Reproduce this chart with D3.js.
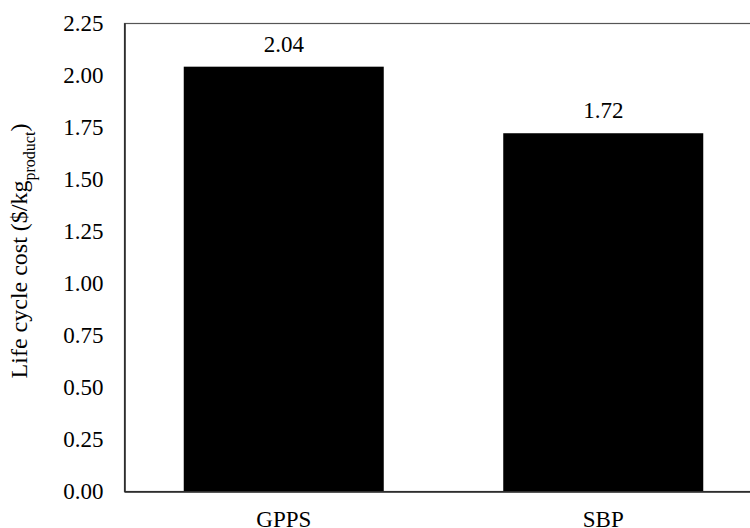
<!DOCTYPE html>
<html>
<head>
<meta charset="utf-8">
<script src="https://cdn.jsdelivr.net/npm/d3@7"></script>
<style>
  html, body { margin: 0; padding: 0; background: #fff; }
  svg { display: block; }
</style>
</head>
<body>
<svg id="chart" width="750" height="528"></svg>
<script>
const categories = ["GPPS", "SBP"];
const values = [2.04, 1.72];
const valueLabels = ["2.04", "1.72"];
const yTicks = [0, 0.25, 0.5, 0.75, 1.0, 1.25, 1.5, 1.75, 2.0, 2.25];

const FONT = '"Liberation Serif", "Times New Roman", Times, serif';
const svg = d3.select("#chart");
const margin = { left: 124, top: 23, right: -13, bottom: 37 };
const W = 750, H = 528;
const x0 = margin.left, x1 = W - margin.right;
const yTop = margin.top, yBot = H - margin.bottom;

const x = d3.scaleBand().domain(categories).range([x0, x1]).paddingInner(0.374).paddingOuter(0.187);
const y = d3.scaleLinear().domain([0, 2.25]).range([yBot, yTop]);

// frame
svg.append("rect")
  .attr("x", x0 + 0.5).attr("y", yTop + 0.5)
  .attr("width", x1 - x0).attr("height", yBot - yTop)
  .attr("fill", "none").attr("stroke", "#555").attr("stroke-width", 1.2);

// bars
svg.selectAll("rect.bar").data(categories).enter().append("rect")
  .attr("class", "bar")
  .attr("x", d => x(d))
  .attr("width", x.bandwidth())
  .attr("y", (d, i) => y(values[i]))
  .attr("height", (d, i) => yBot - y(values[i]))
  .attr("fill", "#000");

// value labels
svg.selectAll("text.val").data(categories).enter().append("text")
  .attr("class", "val")
  .attr("x", d => x(d) + x.bandwidth() / 2)
  .attr("y", (d, i) => y(values[i]) - 15)
  .attr("text-anchor", "middle")
  .style("font-family", FONT).style("font-size", "23px").style("fill", "#000")
  .text((d, i) => valueLabels[i]);

// y axis
const yAxis = d3.axisLeft(y).tickValues(yTicks).tickSize(0).tickPadding(21)
  .tickFormat(d3.format(".2f"));
const gy = svg.append("g").attr("transform", `translate(${x0 + 0.5},0)`).call(yAxis);
gy.attr("font-family", null).attr("font-size", null);
gy.select(".domain").attr("stroke", "#222").attr("stroke-width", 1.5);
gy.selectAll("text").style("font-family", FONT).style("font-size", "23px").style("fill", "#000");

// x axis
const xAxis = d3.axisBottom(x).tickSize(0).tickPadding(19);
const gx = svg.append("g").attr("transform", `translate(0,${yBot + 0.5})`).call(xAxis);
gx.attr("font-family", null).attr("font-size", null);
gx.select(".domain").attr("stroke", "#222").attr("stroke-width", 1.5);
gx.selectAll("text").style("font-family", FONT).style("font-size", "23px").style("fill", "#000");

// y title
const t = svg.append("text")
  .attr("transform", `translate(27,251) rotate(-90)`)
  .attr("text-anchor", "middle")
  .style("font-family", FONT).style("font-size", "24px").style("fill", "#000");
t.append("tspan").text("Life cycle cost ($/kg");
t.append("tspan").style("font-size", "16px").attr("dy", 8).text("product");
t.append("tspan").attr("dy", -8).text(")");
</script>
</body>
</html>
